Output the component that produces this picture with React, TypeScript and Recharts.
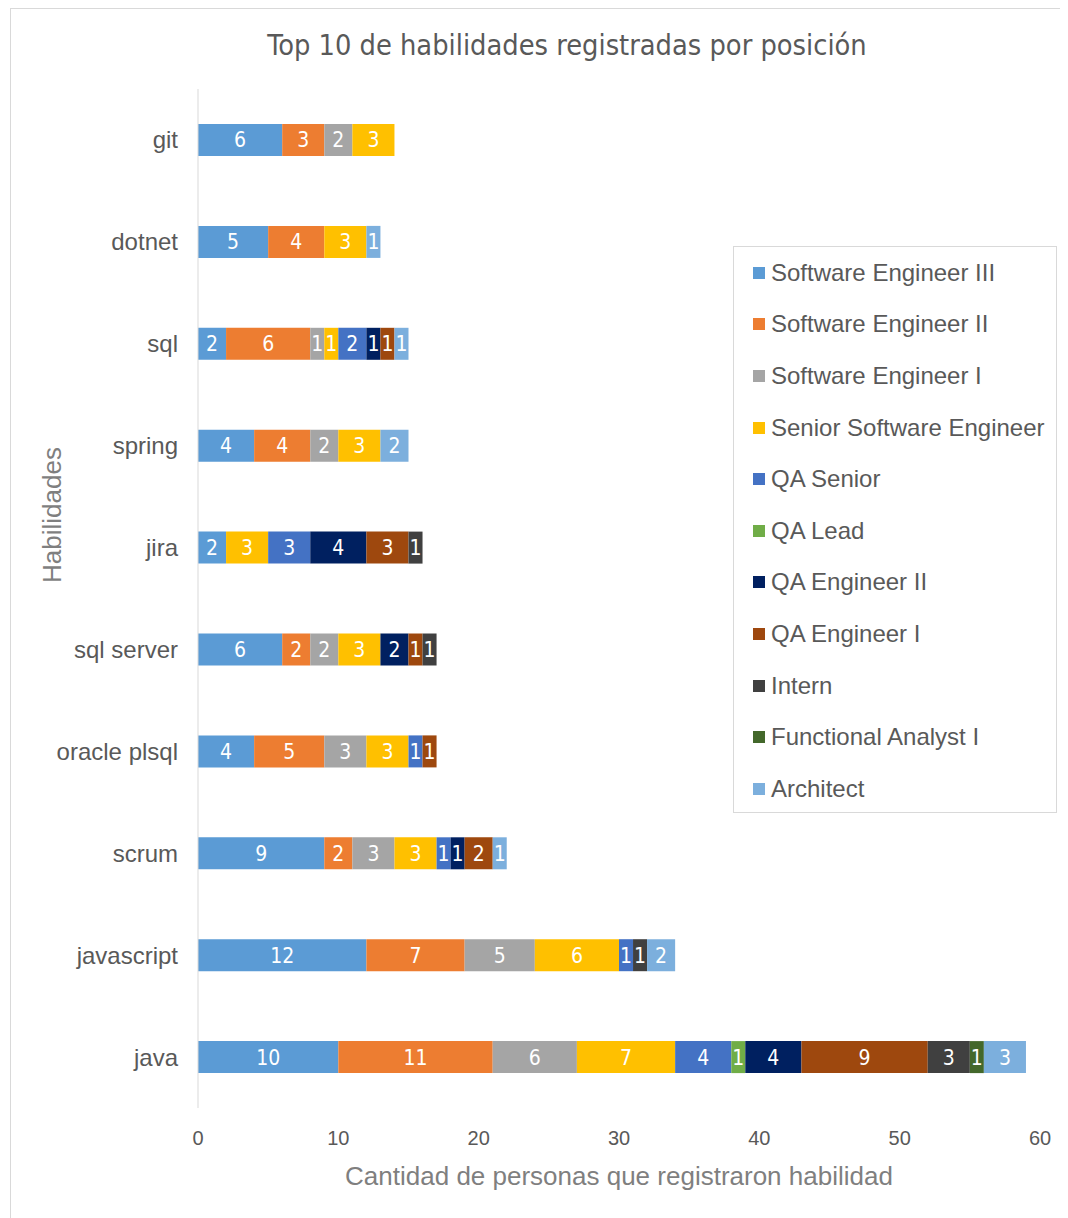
import React from "react";
import { BarChart, Bar, XAxis, YAxis, LabelList } from "recharts";

const categories = [
  "git",
  "dotnet",
  "sql",
  "spring",
  "jira",
  "sql server",
  "oracle plsql",
  "scrum",
  "javascript",
  "java",
];

const softwareEngineer3 = [6, 5, 2, 4, 2, 6, 4, 9, 12, 10];
const softwareEngineer2 = [3, 4, 6, 4, 0, 2, 5, 2, 7, 11];
const softwareEngineer1 = [2, 0, 1, 2, 0, 2, 3, 3, 5, 6];
const seniorSoftwareEngineer = [3, 3, 1, 3, 3, 3, 3, 3, 6, 7];
const qaSenior = [0, 0, 2, 0, 3, 0, 1, 1, 1, 4];
const qaLead = [0, 0, 0, 0, 0, 0, 0, 0, 0, 1];
const qaEngineer2 = [0, 0, 1, 0, 4, 2, 0, 1, 0, 4];
const qaEngineer1 = [0, 0, 1, 0, 3, 1, 1, 2, 0, 9];
const intern = [0, 0, 0, 0, 1, 1, 0, 0, 1, 3];
const functionalAnalyst1 = [0, 0, 0, 0, 0, 0, 0, 0, 0, 1];
const architect = [0, 1, 1, 2, 0, 0, 0, 1, 2, 3];

const xTicks = [0, 10, 20, 30, 40, 50, 60];

const series = [
  { key: "se3", name: "Software Engineer III", values: softwareEngineer3, color: "#5B9BD5" },
  { key: "se2", name: "Software Engineer II", values: softwareEngineer2, color: "#ED7D31" },
  { key: "se1", name: "Software Engineer I", values: softwareEngineer1, color: "#A5A5A5" },
  { key: "sse", name: "Senior Software Engineer", values: seniorSoftwareEngineer, color: "#FFC000" },
  { key: "qas", name: "QA Senior", values: qaSenior, color: "#4472C4" },
  { key: "qal", name: "QA Lead", values: qaLead, color: "#70AD47" },
  { key: "qae2", name: "QA Engineer II", values: qaEngineer2, color: "#002060" },
  { key: "qae1", name: "QA Engineer I", values: qaEngineer1, color: "#9E480E" },
  { key: "int", name: "Intern", values: intern, color: "#404040" },
  { key: "fa1", name: "Functional Analyst I", values: functionalAnalyst1, color: "#43682B" },
  { key: "arc", name: "Architect", values: architect, color: "#7CAFDD" },
];

const data = categories.map((skill, i) => {
  const row: Record<string, string | number | null> = { skill };
  series.forEach((s) => {
    row[s.key] = s.values[i] || null;
  });
  return row;
});

const arial = "'Liberation Sans', Arial, sans-serif";
const narrow = "'Liberation Sans Narrow', 'DejaVu Sans Condensed', 'Liberation Sans', sans-serif";
const textGray = "#595959";

function LegendBox() {
  return (
    <div
      style={{
        position: "absolute",
        left: 722,
        top: 237,
        boxSizing: "border-box",
        width: 324,
        height: 567,
        border: "1px solid #d9d9d9",
        background: "#fff",
        fontFamily: arial,
      }}
    >
      {series.map((s) => (
        <div
          key={s.key}
          style={{
            display: "flex",
            alignItems: "center",
            height: 51.6,
            paddingLeft: 19,
            color: textGray,
            fontSize: 24,
            whiteSpace: "nowrap",
          }}
        >
          <span
            style={{
              display: "inline-block",
              width: 12,
              height: 12,
              background: s.color,
              marginRight: 6,
            }}
          />
          {s.name}
        </div>
      ))}
    </div>
  );
}

export default function App() {
  return (
    <div
      style={{
        position: "relative",
        boxSizing: "border-box",
        width: 1064,
        height: 1216,
        marginLeft: 2,
        border: "1px solid #d9d9d9",
        background: "#fff",
      }}
    >
      <style>{"body{overflow:hidden}"}</style>
      <div
        style={{
          position: "absolute",
          left: 556,
          top: 22,
          transform: "translateX(-50%)",
          whiteSpace: "nowrap",
          fontFamily: narrow,
          fontSize: 28.7,
          lineHeight: 1,
          color: textGray,
        }}
      >
        Top 10 de habilidades registradas por posición
      </div>
      <div
        style={{
          position: "absolute",
          left: 41,
          top: 506,
          transform: "translate(-50%, -50%) rotate(-90deg)",
          whiteSpace: "nowrap",
          fontFamily: arial,
          fontSize: 26,
          lineHeight: 1,
          color: "#7f7f7f",
        }}
      >
        Habilidades
      </div>
      <BarChart
        width={1056}
        height={1208}
        data={data}
        layout="vertical"
        margin={{ top: 80, right: 27, left: 0, bottom: 19 }}
      >
        <XAxis
          type="number"
          domain={[0, 60]}
          ticks={xTicks}
          axisLine={false}
          tickLine={false}
          tickSize={0}
          tickMargin={23}
          height={90}
          tick={{ fill: textGray, fontSize: 20, fontFamily: arial }}
          label={{
            value: "Cantidad de personas que registraron habilidad",
            position: "insideBottom",
            offset: 13,
            fill: "#7f7f7f",
            fontSize: 26,
            fontFamily: arial,
          }}
        />
        <YAxis
          type="category"
          dataKey="skill"
          width={187}
          axisLine={{ stroke: "#d9d9d9" }}
          tickLine={false}
          tickSize={0}
          tickMargin={20}
          tick={{ fill: textGray, fontSize: 24, fontFamily: arial }}
        />
        {series.map((s) => (
          <Bar
            key={s.key}
            dataKey={s.key}
            name={s.name}
            stackId="a"
            fill={s.color}
            barSize={32}
            isAnimationActive={false}
          >
            <LabelList
              dataKey={s.key}
              position="center"
              fill="#ffffff"
              fontSize={21}
              fontFamily={narrow}
              formatter={(v: any) => (v ? v : "")}
            />
          </Bar>
        ))}
      </BarChart>
      <LegendBox />
    </div>
  );
}
